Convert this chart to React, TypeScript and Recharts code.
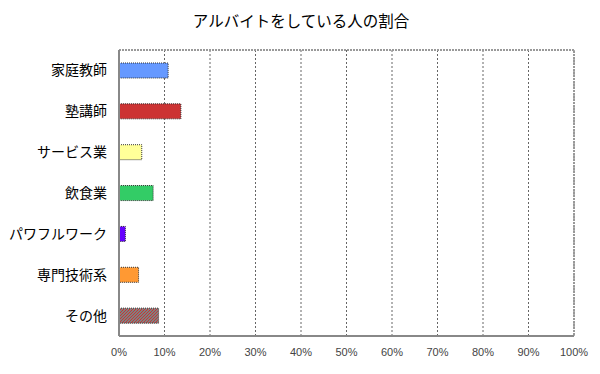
import { Bar, BarChart, CartesianGrid, Cell, ReferenceArea, XAxis, YAxis } from "recharts";

const categories = ["家庭教師", "塾講師", "サービス業", "飲食業", "パワフルワーク", "専門技術系", "その他"];
const shares = [10.8, 13.6, 5.0, 7.5, 1.4, 4.3, 8.7];
const xTicks = [0, 10, 20, 30, 40, 50, 60, 70, 80, 90, 100];

const data = categories.map((name, i) => ({ name, value: shares[i] }));

const barFills = ["#6699ff", "#cc3333", "#ffff99", "#33cc66", "#6600ff", "#ff9933", "url(#otherDots)"];
const font = "'Noto Sans CJK JP', 'Noto Sans', sans-serif";

export default function App() {
  return (
    <div style={{ position: "absolute", left: 0, top: 0, width: 600, height: 374, background: "#fff" }}>
      {/* pattern for the "その他" bar, shared across the document */}
      <svg width={0} height={0} style={{ position: "absolute" }}>
        <defs>
          <pattern id="otherDots" width={3} height={3} patternUnits="userSpaceOnUse">
            <rect width={3} height={3} fill="#808080" />
            <rect x={0} y={0} width={1} height={1} fill="#d03030" />
            <rect x={2} y={1} width={1} height={1} fill="#d03030" />
            <rect x={1} y={2} width={1} height={1} fill="#b04040" />
          </pattern>
        </defs>
      </svg>
      <div
        style={{
          position: "absolute",
          top: 9,
          left: 0,
          width: 602,
          textAlign: "center",
          fontFamily: font,
          fontSize: 15.5,
          lineHeight: "22px",
          color: "#000",
        }}
      >
        アルバイトをしている人の割合
      </div>
      <BarChart
        width={600}
        height={374}
        data={data}
        layout="vertical"
        margin={{ top: 50, right: 26, bottom: 0, left: 0 }}
        barCategoryGap={0}
      >
        <CartesianGrid horizontal={false} stroke="#666" strokeDasharray="2 2" />
        <ReferenceArea
          x1={0}
          x2={100}
          fill="none"
          stroke="#999"
          strokeWidth={2}
          strokeDasharray="2 1"
          ifOverflow="visible"
        />
        <XAxis
          type="number"
          domain={[0, 100]}
          ticks={xTicks}
          height={38}
          tickFormatter={(v) => `${v}%`}
          tickLine={false}
          tickSize={0}
          tickMargin={12}
          axisLine={{ stroke: "#888", strokeWidth: 2 }}
          tick={{ fontSize: 11, fill: "#444", fontFamily: "'Liberation Sans', Arial, sans-serif" }}
          interval={0}
        />
        <YAxis
          type="category"
          dataKey="name"
          width={119}
          tickLine={false}
          tickMargin={12}
          tickSize={0}
          axisLine={{ stroke: "#888", strokeWidth: 2 }}
          tick={{ fontSize: 14, fill: "#000", fontFamily: font }}
          interval={0}
        />
        <Bar dataKey="value" barSize={15} stroke="#333" strokeWidth={1} strokeDasharray="1 1" isAnimationActive={false}>
          {data.map((d, i) => (
            <Cell key={d.name} fill={barFills[i]} />
          ))}
        </Bar>
      </BarChart>
    </div>
  );
}
